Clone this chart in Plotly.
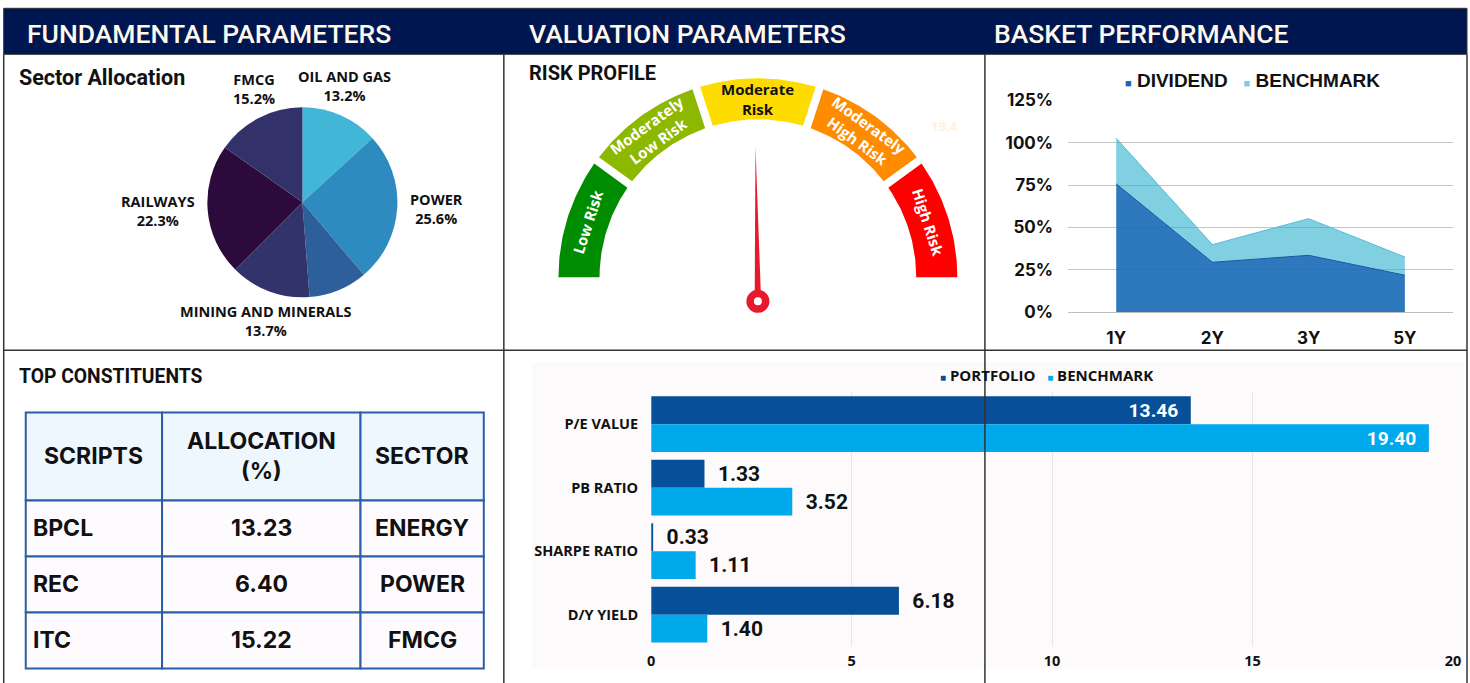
import math
import plotly.graph_objects as go

# figure size; coordinates below are given in reference-picture pixels and mapped to paper
W, H = 1470, 683
OFF = 0
# measured mapping of the rendered figure onto the photograph: pic = A * coord + B
AX, BX = 0.9896, 6.3
AY, BY = 0.972, 8.7

# ---------------- DATA ----------------
sector_labels = ["OIL AND GAS", "POWER", "OTHERS", "MINING AND MINERALS", "RAILWAYS", "FMCG"]
sector_values = [13.2, 25.6, 10.0, 13.7, 22.3, 15.2]
sector_colors = ["#41B6D6", "#2E8BC0", "#2D5F9A", "#33336B", "#2C0B3C", "#32316A"]
sector_show = [True, True, False, True, True, True]

risk_labels = ["Low Risk", "Moderately<br>Low Risk", "Moderate<br>Risk",
               "Moderately<br>High Risk", "High Risk"]
risk_colors = ["#008C00", "#8DB800", "#FFDC00", "#FF8C00", "#FF0000"]
risk_text_colors = ["white", "white", "#111111", "white", "white"]
risk_needle_value = 49.5   # position on a 0-100 dial
risk_score_text = "19.4"

periods = ["1Y", "2Y", "3Y", "5Y"]
dividend = [75.7, 29.5, 33.6, 21.9]
benchmark_perf = [102.5, 39.9, 55.2, 32.6]
perf_ticks = [0, 25, 50, 75, 100, 125]

table_header = ["SCRIPTS", "ALLOCATION<br>(%)", "SECTOR"]
table_scripts = ["BPCL", "REC", "ITC"]
table_alloc = [13.23, 6.40, 15.22]
table_sector = ["ENERGY", "POWER", "FMCG"]

val_params = ["P/E VALUE", "PB RATIO", "SHARPE RATIO", "D/Y YIELD"]
val_portfolio = [13.46, 1.33, 0.03, 6.18]
val_portfolio_text = ["13.46", "1.33", "0.33", "6.18"]
val_benchmark = [19.40, 3.52, 1.11, 1.40]
val_benchmark_text = ["19.40", "3.52", "1.11", "1.40"]

# ---------------- helpers (reference pixel -> paper) ----------------
def PX(x):
    return ((x - BX) / AX - OFF) / W

def PY(y):
    return 1 - ((y - BY) / AY - OFF) / H

NAVY = "#001650"
LINE = "#333333"
C_DIV = "#1F66B5"
C_BEN = "#79CDE0"
C_PORT = "#074F98"
C_BENB = "#00A8EC"

fig = go.Figure()
annotations = []
shapes = []

# ---------------- PIE ----------------
pcx, pcy, pr = 304, 202, 95
fig.add_trace(go.Pie(
    labels=sector_labels, values=sector_values, sort=False, direction="clockwise",
    rotation=0, marker=dict(colors=sector_colors), textinfo="none",
    showlegend=False, domain=dict(x=[PX(pcx - pr), PX(pcx + pr)], y=[PY(pcy + pr), PY(pcy - pr)]),
    hoverinfo="label+percent"))

total = sum(sector_values)
cum = 0
for lab, v, show in zip(sector_labels, sector_values, sector_show):
    mid = (cum + v / 2) / total * 2 * math.pi
    cum += v
    if not show:
        continue
    s, c = math.sin(mid), math.cos(mid)
    xa = "left" if s > 0.6 else ("right" if s < -0.6 else "center")
    ya = "bottom" if c > 0.6 else ("top" if c < -0.6 else "middle")
    R = 106 if xa != "center" else 104
    annotations.append(dict(
        x=PX(pcx + R * s), y=PY(pcy - R * c), xref="paper", yref="paper",
        xanchor=xa, yanchor=ya, showarrow=False, align="center",
        text=f"<b>{lab}<br>{v / total * 100:.1f}%</b>",
        font=dict(family="Open Sans", size=14.5, color="#111111")))

# ---------------- GAUGE ----------------
gx0, gx1, gy0, gy1 = 506, 984, 55, 349
gcx, gcy = 758.5, -277
r_in, r_out = 158, 199
half_gap = 4.0
n = len(risk_labels)
seg = 180.0 / n
for i in range(n):
    a1 = 180 - seg * i
    a2 = 180 - seg * (i + 1)
    xs, ys = [], []
    for r, rev in ((r_out, False), (r_in, True)):
        d = math.degrees(half_gap / r)
        s1 = a1 - (d if i > 0 else 0)
        s2 = a2 + (d if i < n - 1 else 0)
        steps = 40
        angs = [s1 + (s2 - s1) * k / steps for k in range(steps + 1)]
        if rev:
            angs = angs[::-1]
        for a in angs:
            xs.append(gcx + r * math.cos(math.radians(a)))
            ys.append(gcy + r * math.sin(math.radians(a)))
    xs.append(xs[0]); ys.append(ys[0])
    fig.add_trace(go.Scatter(x=xs, y=ys, mode="lines", fill="toself", fillcolor=risk_colors[i],
                             line=dict(width=0, color=risk_colors[i]), xaxis="x3", yaxis="y3",
                             showlegend=False, hoverinfo="skip"))
    amid = (a1 + a2) / 2
    rm = (r_in + r_out) / 2
    annotations.append(dict(
        x=gcx + rm * math.cos(math.radians(amid)), y=gcy + rm * math.sin(math.radians(amid)),
        xref="x3", yref="y3", showarrow=False, text=f"<b>{risk_labels[i]}</b>", textangle=-(amid - 90),
        xanchor="center", yanchor="middle", align="center",
        font=dict(family="Open Sans", size=15, color=risk_text_colors[i])))

# needle
hub_x, hub_y = 758.5, -301
needle_len = 154
ang = math.radians(180 - risk_needle_value / 100 * 180)
tipx, tipy = hub_x + needle_len * math.cos(ang), hub_y + needle_len * math.sin(ang)
nx, ny = -math.sin(ang), math.cos(ang)
bw = 3.2
fig.add_trace(go.Scatter(
    x=[hub_x + bw * nx, tipx, hub_x - bw * nx, hub_x + bw * nx],
    y=[hub_y + bw * ny, tipy, hub_y - bw * ny, hub_y + bw * ny],
    mode="lines", fill="toself", fillcolor="#E8192C", line=dict(width=0, color="#E8192C"),
    xaxis="x3", yaxis="y3", showlegend=False, hoverinfo="skip"))
for rad, col in ((11.5, "#E8192C"), (4, "white")):
    shapes.append(dict(type="circle", xref="x3", yref="y3", x0=hub_x - rad, x1=hub_x + rad,
                       y0=hub_y - rad, y1=hub_y + rad, fillcolor=col, line=dict(width=0), layer="above"))
annotations.append(dict(x=945, y=-126, xref="x3", yref="y3", showarrow=False, text=f"<b>{risk_score_text}</b>",
                        font=dict(family="Open Sans", size=13, color="#FFF1DE")))

# ---------------- AREA (BASKET PERFORMANCE) ----------------
fig.add_trace(go.Scatter(
    x=periods, y=dividend, name="DIVIDEND", mode="lines", fill="tozeroy",
    fillcolor="rgba(23,105,183,0.9)", line=dict(color="#1A56A5", width=1),
    xaxis="x", yaxis="y", showlegend=False))
fig.add_trace(go.Scatter(
    x=periods, y=benchmark_perf, name="BENCHMARK", mode="lines", fill="tonexty",
    fillcolor="rgba(45,177,207,0.6)", line=dict(color="#52BCD8", width=1),
    xaxis="x", yaxis="y", showlegend=False))
annotations.append(dict(
    x=PX(1252), y=PY(80), xref="paper", yref="paper", showarrow=False, xanchor="center", yanchor="middle",
    text=(f'<span style="color:{C_DIV};font-size:11px">■</span> <b>DIVIDEND</b>\u00a0\u00a0 '
          f'<span style="color:{C_BEN};font-size:11px">■</span> <b>BENCHMARK</b>'),
    font=dict(family="Liberation Sans", size=19, color="#111111")))

# ---------------- BARS (VALUATION) ----------------
def bar_text(labels):
    return [t + "\u00a0\u00a0" if i == 0 else "\u00a0\u00a0" + t for i, t in enumerate(labels)]

for vals, labs, name, col in ((val_portfolio, val_portfolio_text, "PORTFOLIO", C_PORT),
                              (val_benchmark, val_benchmark_text, "BENCHMARK", C_BENB)):
    fig.add_trace(go.Bar(
        y=val_params, x=vals, orientation="h", name=name,
        marker=dict(color=col, line=dict(width=0)),
        text=bar_text(labs), texttemplate="%{text}",
        textposition=["inside", "outside", "outside", "outside"], insidetextanchor="end",
        insidetextfont=dict(family="Roboto", size=21, color="white", weight="bold"),
        outsidetextfont=dict(family="Roboto", size=21, color="#111111", weight="bold"),
        cliponaxis=False, xaxis="x2", yaxis="y2", showlegend=False))
annotations.append(dict(
    x=PX(1046), y=PY(375), xref="paper", yref="paper", showarrow=False, xanchor="center", yanchor="middle",
    text=(f'<span style="color:{C_PORT};font-size:10px">■</span> <b>PORTFOLIO</b>\u00a0\u00a0 '
          f'<span style="color:{C_BENB};font-size:10px">■</span> <b>BENCHMARK</b>'),
    font=dict(family="Open Sans", size=15, color="#111111")))

# ---------------- TABLE (cells as shapes, text as annotations) ----------------
col_edges = [28, 164, 362, 485]
row_edges = [412, 500, 556, 612, 668]
col_align = ["left", "center", "center"]
rows = [table_header] + [[s, f"{a:.2f}", sec] for s, a, sec in zip(table_scripts, table_alloc, table_sector)]
for ri, row in enumerate(rows):
    y0, y1 = row_edges[ri], row_edges[ri + 1]
    for ci, txt in enumerate(row):
        x0, x1 = col_edges[ci], col_edges[ci + 1]
        shapes.append(dict(type="rect", xref="paper", yref="paper", x0=PX(x0), x1=PX(x1), y0=PY(y1), y1=PY(y0),
                           fillcolor="#EEF6FE" if ri == 0 else "#FDFBFD",
                           line=dict(color="#2C5DA7", width=2), layer="below"))
        al = "center" if ri == 0 else col_align[ci]
        xx = (x0 + x1) / 2 if al == "center" else x0 + 5
        annotations.append(dict(x=PX(xx), y=PY((y0 + y1) / 2), xref="paper", yref="paper", showarrow=False,
                                xanchor=al, yanchor="middle", align="center", text=f"<b>{txt}</b>",
                                font=dict(family="Inter", size=23, color="#111111")))

# ---------------- SHAPES (frame) ----------------
shapes.insert(0, dict(type="rect", xref="paper", yref="paper", x0=PX(533), x1=PX(1463), y0=PY(668), y1=PY(362),
                      fillcolor="#FDFAFC", line=dict(width=0), layer="below"))
shapes.append(dict(type="rect", xref="paper", yref="paper", x0=PX(6), x1=PX(1466), y0=PY(54), y1=PY(8),
                   fillcolor=NAVY, line=dict(color=LINE, width=1), layer="above"))
for x in (6, 505, 985, 1466):
    shapes.append(dict(type="line", xref="paper", yref="paper", x0=PX(x), x1=PX(x), y0=PY(690), y1=PY(54),
                       line=dict(color=LINE, width=1.5), layer="above"))
shapes.append(dict(type="line", xref="paper", yref="paper", x0=PX(6), x1=PX(1466), y0=PY(350), y1=PY(350),
                   line=dict(color=LINE, width=1.5), layer="above"))

# ---------------- TITLES ----------------
for txt, x in (("FUNDAMENTAL PARAMETERS", 27), ("VALUATION PARAMETERS", 528), ("BASKET PERFORMANCE", 992)):
    annotations.append(dict(x=PX(x), y=PY(33), xref="paper", yref="paper", xanchor="left", yanchor="middle",
                            showarrow=False, text=txt,
                            font=dict(family="Roboto", size=26.5, color="#FFF8EC", weight=500)))
for txt, x, y, sz in (("Sector Allocation", 19, 77, 21.5), ("RISK PROFILE", 528, 73, 20),
                      ("TOP CONSTITUENTS", 19, 376, 19.3)):
    annotations.append(dict(x=PX(x), y=PY(y), xref="paper", yref="paper", xanchor="left", yanchor="middle",
                            showarrow=False, text=f"<b>{txt}</b>",
                            font=dict(family="Roboto", size=sz, color="#111111")))

fig.update_layout(
    width=W, height=H, margin=dict(l=0, r=0, t=0, b=0),
    paper_bgcolor="white", plot_bgcolor="rgba(0,0,0,0)",
    shapes=shapes, annotations=annotations,
    barmode="group", bargap=0.12, bargroupgap=0.0,
    xaxis=dict(domain=[PX(1068), PX(1452)], range=[-0.5, 3.5], showgrid=False, showline=True,
               linecolor="#BFBFBF", linewidth=1, ticks="", ticklabelstandoff=10,
               tickfont=dict(family="Inter", size=17, color="#111111", weight="bold"), fixedrange=True),
    yaxis=dict(domain=[PY(312), PY(99)], range=[0, 125.5], tickvals=perf_ticks,
               ticktext=[f"{t}%" for t in perf_ticks], showgrid=True, gridcolor="#C4C4C4", gridwidth=1,
               zeroline=False, ticks="", ticklabelstandoff=14,
               tickfont=dict(family="Inter", size=17, color="#111111", weight="bold"), fixedrange=True),
    xaxis2=dict(domain=[PX(652), PX(1452)], range=[0, 20], dtick=5, anchor="y2", showgrid=True,
                gridcolor="#E6E6E6", zeroline=False, showline=False, ticks="", ticklabelstandoff=4,
                tickfont=dict(family="Open Sans", size=14.5, color="#111111", weight="bold"), fixedrange=True),
    yaxis2=dict(domain=[PY(646), PY(392)], anchor="x2", autorange="reversed", showgrid=False,
                ticks="", ticklabelstandoff=12, showline=False,
                tickfont=dict(family="Open Sans", size=14.5, color="#111111", weight="bold"), fixedrange=True),
    xaxis3=dict(domain=[PX(gx0), PX(gx1)], range=[gx0, gx1], visible=False, anchor="y3", fixedrange=True),
    yaxis3=dict(domain=[PY(gy1), PY(gy0)], range=[-gy1, -gy0], visible=False, anchor="x3", fixedrange=True),
)

fig.write_html("out.html", config={"displayModeBar": False},
               post_script="document.body.style.margin='0px';")
